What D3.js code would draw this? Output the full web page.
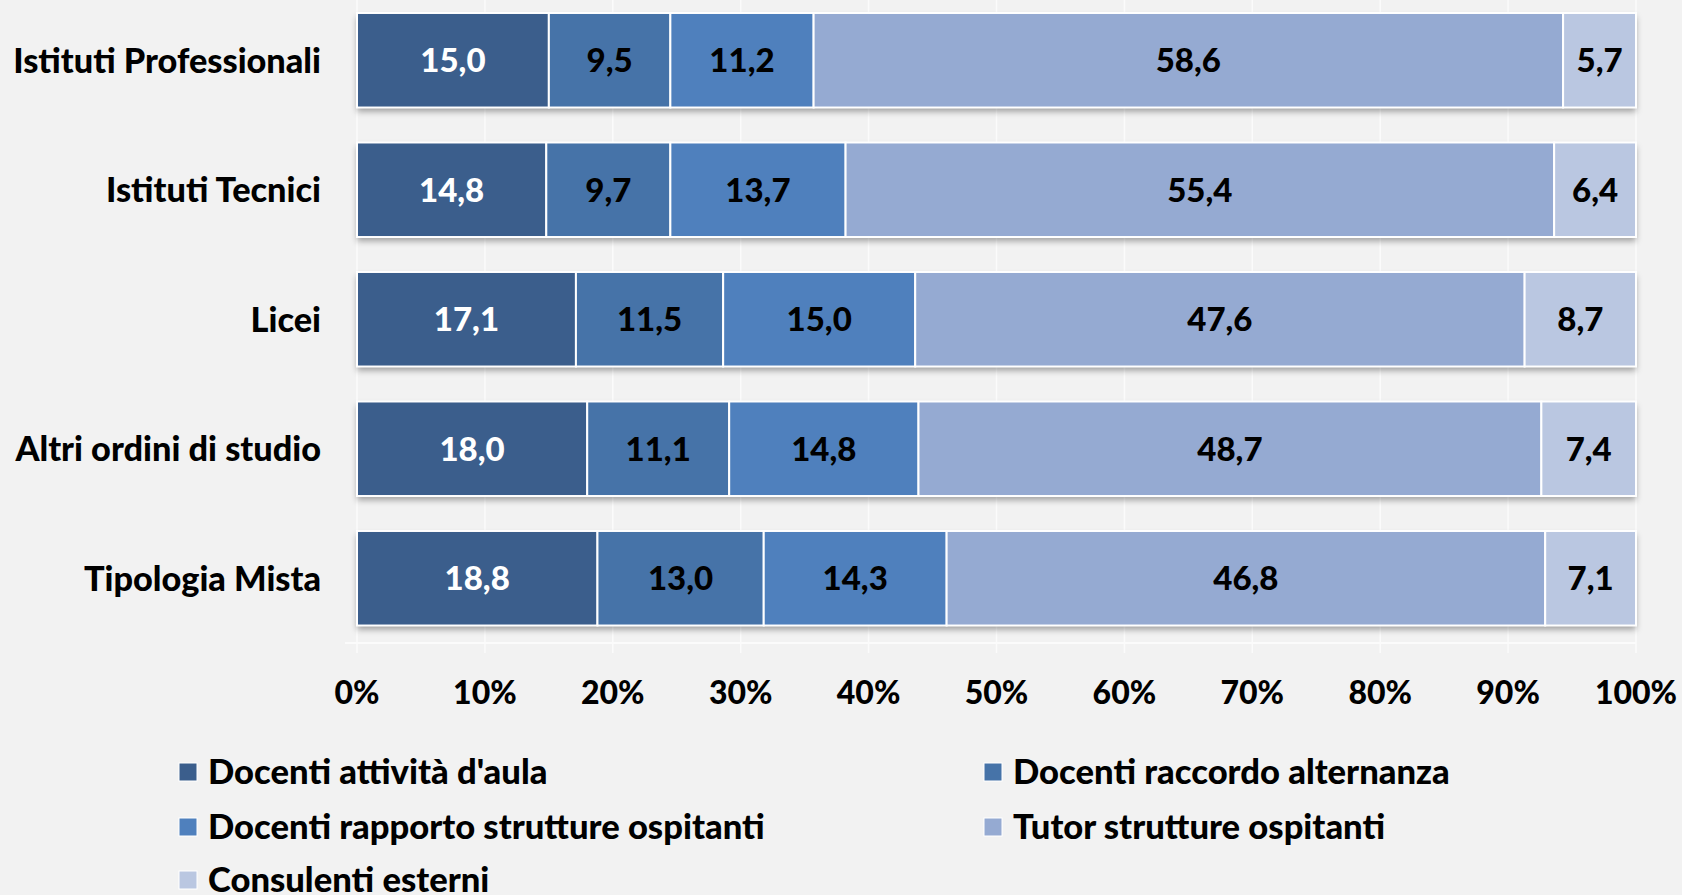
<!DOCTYPE html>
<html>
<head>
<meta charset="utf-8">
<script src="https://cdn.jsdelivr.net/npm/d3@7"></script>
<style>
  html, body { margin: 0; padding: 0; background: #f2f2f2; }
  svg { display: block; }
</style>
</head>
<body>
<div id="chart"></div>
<script>
// 100% stacked bars
var categories = ["Istituti Professionali", "Istituti Tecnici", "Licei", "Altri ordini di studio", "Tipologia Mista"];
var seriesNames = ["Docenti attività d'aula", "Docenti raccordo alternanza", "Docenti rapporto strutture ospitanti", "Tutor strutture ospitanti", "Consulenti esterni"];
var docentiAula = [15.0, 14.8, 17.1, 18.0, 18.8];
var docentiRaccordo = [9.5, 9.7, 11.5, 11.1, 13.0];
var docentiRapporto = [11.2, 13.7, 15.0, 14.8, 14.3];
var tutorStrutture = [58.6, 55.4, 47.6, 48.7, 46.8];
var consulenti = [5.7, 6.4, 8.7, 7.4, 7.1];
var tickLabels = [0, 0.1, 0.2, 0.3, 0.4, 0.5, 0.6, 0.7, 0.8, 0.9, 1];

var palette = ["#3b5e8c", "#4673a8", "#4f80bd", "#95aad2", "#bac7e1"];
var labelColours = ["#ffffff", "#000000", "#000000", "#000000", "#000000"];

var width = 1682, height = 895;
var font = "Lato, 'Open Sans', sans-serif";
var weight = 900;

var seriesValues = [docentiAula, docentiRaccordo, docentiRapporto, tutorStrutture, consulenti];

// build table for d3.stack
var table = categories.map(function(c, i) {
  var row = {name: c};
  seriesNames.forEach(function(s, j) { row[s] = seriesValues[j][i]; });
  return row;
});

var stack = d3.stack()
    .keys(seriesNames)
    .offset(d3.stackOffsetExpand);
var stacked = stack(table);

var svg = d3.select("#chart")
    .append("svg")
    .attr("width", width)
    .attr("height", height);

svg.append("rect")
    .attr("width", width)
    .attr("height", height)
    .attr("fill", "#f2f2f2");

var defs = svg.append("defs");
var filter = defs.append("filter")
    .attr("id", "shadow")
    .attr("x", "-5%").attr("y", "-10%")
    .attr("width", "110%").attr("height", "130%");
filter.append("feDropShadow")
    .attr("dx", 0).attr("dy", 4)
    .attr("stdDeviation", 3)
    .attr("flood-color", "#000")
    .attr("flood-opacity", 0.35);

var x = d3.scaleLinear()
    .domain([0, 1])
    .range([357, 1636]);

var y = d3.scaleBand()
    .domain(categories)
    .range([-4.5, 643])
    .paddingInner(0.27)
    .paddingOuter(0.135);

// gridlines
svg.append("g")
    .selectAll("line")
    .data(tickLabels)
    .enter()
    .append("line")
    .attr("x1", function(d) { return x(d); })
    .attr("x2", function(d) { return x(d); })
    .attr("y1", 0)
    .attr("y2", 653)
    .attr("stroke", "#fbfbfb")
    .attr("stroke-width", 1.5);

// axis line
svg.append("line")
    .attr("x1", 345)
    .attr("x2", 1636)
    .attr("y1", 643)
    .attr("y2", 643)
    .attr("stroke", "#fbfbfb")
    .attr("stroke-width", 2);

// bars: one shadow rect per category, then the segments
svg.append("g")
    .selectAll("rect")
    .data(categories)
    .enter()
    .append("rect")
    .attr("x", x(0))
    .attr("y", function(d) { return y(d); })
    .attr("width", x(1) - x(0))
    .attr("height", y.bandwidth())
    .attr("fill", "#ffffff")
    .attr("filter", "url(#shadow)");

var layers = svg.append("g")
    .selectAll("g")
    .data(stacked)
    .enter()
    .append("g")
    .attr("fill", function(d, i) { return palette[i]; });

layers.selectAll("rect")
    .data(function(d) { return d; })
    .enter()
    .append("rect")
    .attr("x", function(d) { return x(d[0]); })
    .attr("y", function(d) { return y(d.data.name); })
    .attr("width", function(d) { return x(d[1]) - x(d[0]); })
    .attr("height", y.bandwidth())
    .attr("stroke", "#ffffff")
    .attr("stroke-width", 2);

// value labels
stacked.forEach(function(layer, i) {
  svg.append("g")
    .selectAll("text")
    .data(layer)
    .enter()
    .append("text")
    .attr("x", function(d) { return (x(d[0]) + x(d[1])) / 2; })
    .attr("y", function(d) { return y(d.data.name) + y.bandwidth() / 2; })
    .attr("dy", "0.36em")
    .attr("text-anchor", "middle")
    .style("font-family", font)
    .style("font-weight", weight)
    .style("font-size", "33px")
    .style("fill", labelColours[i])
    .text(function(d) { return d3.format(".1f")(d.data[layer.key]).replace(".", ","); });
});

// category labels
svg.append("g")
    .selectAll("text")
    .data(categories)
    .enter()
    .append("text")
    .attr("x", 321)
    .attr("y", function(d) { return y(d) + y.bandwidth() / 2; })
    .attr("dy", "0.36em")
    .attr("text-anchor", "end")
    .style("font-family", font)
    .style("font-weight", weight)
    .style("font-size", "34.3px")
    .style("fill", "#000")
    .text(function(d) { return d; });

// x tick labels
svg.append("g")
    .selectAll("text")
    .data(tickLabels)
    .enter()
    .append("text")
    .attr("x", function(d) { return x(d); })
    .attr("y", 692)
    .attr("dy", "0.36em")
    .attr("text-anchor", "middle")
    .style("font-family", font)
    .style("font-weight", weight)
    .style("font-size", "32px")
    .style("fill", "#000")
    .text(function(d) { return d3.format(".0%")(d); });

// legend
var legendPos = [[179, 772], [984, 772], [179, 827], [984, 827], [179, 880]];
var legend = svg.append("g")
    .selectAll("g")
    .data(seriesNames)
    .enter()
    .append("g")
    .attr("transform", function(d, i) { return "translate(" + legendPos[i][0] + "," + legendPos[i][1] + ")"; });
legend.append("rect")
    .attr("x", 0)
    .attr("y", -9)
    .attr("width", 18)
    .attr("height", 18)
    .attr("fill", function(d, i) { return palette[i]; })
    .attr("stroke", "#ffffff")
    .attr("stroke-width", 1);
legend.append("text")
    .attr("x", 29)
    .attr("y", 0)
    .attr("dy", "0.36em")
    .style("font-family", font)
    .style("font-weight", weight)
    .style("font-size", "34.6px")
    .style("fill", "#000")
    .text(function(d) { return d; });
</script>
</body>
</html>
